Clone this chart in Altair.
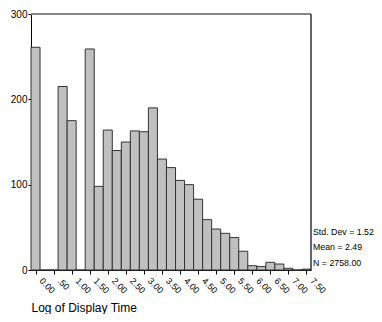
import altair as alt
import pandas as pd

bin_mid = [i * 0.25 for i in range(31)]
counts = [261, 0, 0, 215, 175, 0, 259, 98, 164, 140, 150, 163, 162, 190,
          130, 120, 105, 100, 83, 59, 48, 43, 38, 22, 5, 4, 9, 7, 2, 0, 1]
tick_values = [i * 0.5 for i in range(16)]
stats_lines = ["Std. Dev = 1.52", "Mean = 2.49", "N = 2758.00"]

FONT = "Liberation Sans"
half = 0.125

df = pd.DataFrame({"mid": bin_mid, "count": counts})
df["x0"] = df["mid"] - half
df["x1"] = df["mid"] + half
df["base"] = 0

xscale = alt.Scale(domain=[-half, 7.5 + half], nice=False, zero=False)
yscale = alt.Scale(domain=[0, 300], nice=False)

xaxis = alt.Axis(values=tick_values, grid=False,
                 labelExpr="datum.value == 0.5 ? '.50' : format(datum.value, '.2f')",
                 labelAngle=45, labelAlign="left", labelBaseline="middle",
                 labelFont=FONT, labelFontSize=9, labelColor="#000",
                 labelPadding=5, labelOffset=5, labelOverlap=False, labelBound=False,
                 labelFlush=False,
                 tickSize=4, tickColor="#000", domainColor="#000",
                 title="Log of Display Time", titleFont=FONT, titleFontSize=12,
                 titleFontWeight="normal", titleColor="#000",
                 titleX=0, titleY=41, titleAlign="left", titleBaseline="alphabetic",
                 titleAnchor="start")
yaxis = alt.Axis(values=[0, 100, 200, 300], grid=False, title=None,
                 labelFont=FONT, labelFontSize=10, labelColor="#000",
                 tickSize=3, tickColor="#000", domainColor="#000",
                 labelPadding=1)

bars = alt.Chart(df).mark_rect(
    fill="#c0c0c0", stroke="#333333", strokeWidth=1
).encode(
    x=alt.X("x0:Q", scale=xscale, axis=xaxis),
    x2="x1:Q",
    y=alt.Y("count:Q", scale=yscale, axis=yaxis),
    y2="base:Q",
)

top_rule = alt.Chart(pd.DataFrame({"y": [300]})).mark_rule(
    color="#888888", strokeWidth=2
).encode(y=alt.Y("y:Q", scale=yscale, axis=yaxis))

right_rule = alt.Chart(pd.DataFrame({"x": [7.5 + half]})).mark_rule(
    color="#333333", strokeWidth=1.5
).encode(x=alt.X("x:Q", scale=xscale, axis=xaxis))

stats = alt.Chart(pd.DataFrame({"t": ["\n".join(stats_lines)]})).mark_text(
    align="left", baseline="middle", font=FONT, fontSize=8.8, color="#000",
    lineBreak="\n", lineHeight=15.8
).encode(x=alt.value(282), y=alt.value(217.7), text="t:N")

chart = alt.layer(bars, top_rule, right_rule, stats).properties(
    width=280, height=256,
    autosize=alt.AutoSizeParams(type="none"),
    padding={"left": 23, "top": 6, "right": 63, "bottom": 44},
).configure_view(stroke=None)

chart.save("out.html", embed_options={"renderer": "svg", "actions": False})
